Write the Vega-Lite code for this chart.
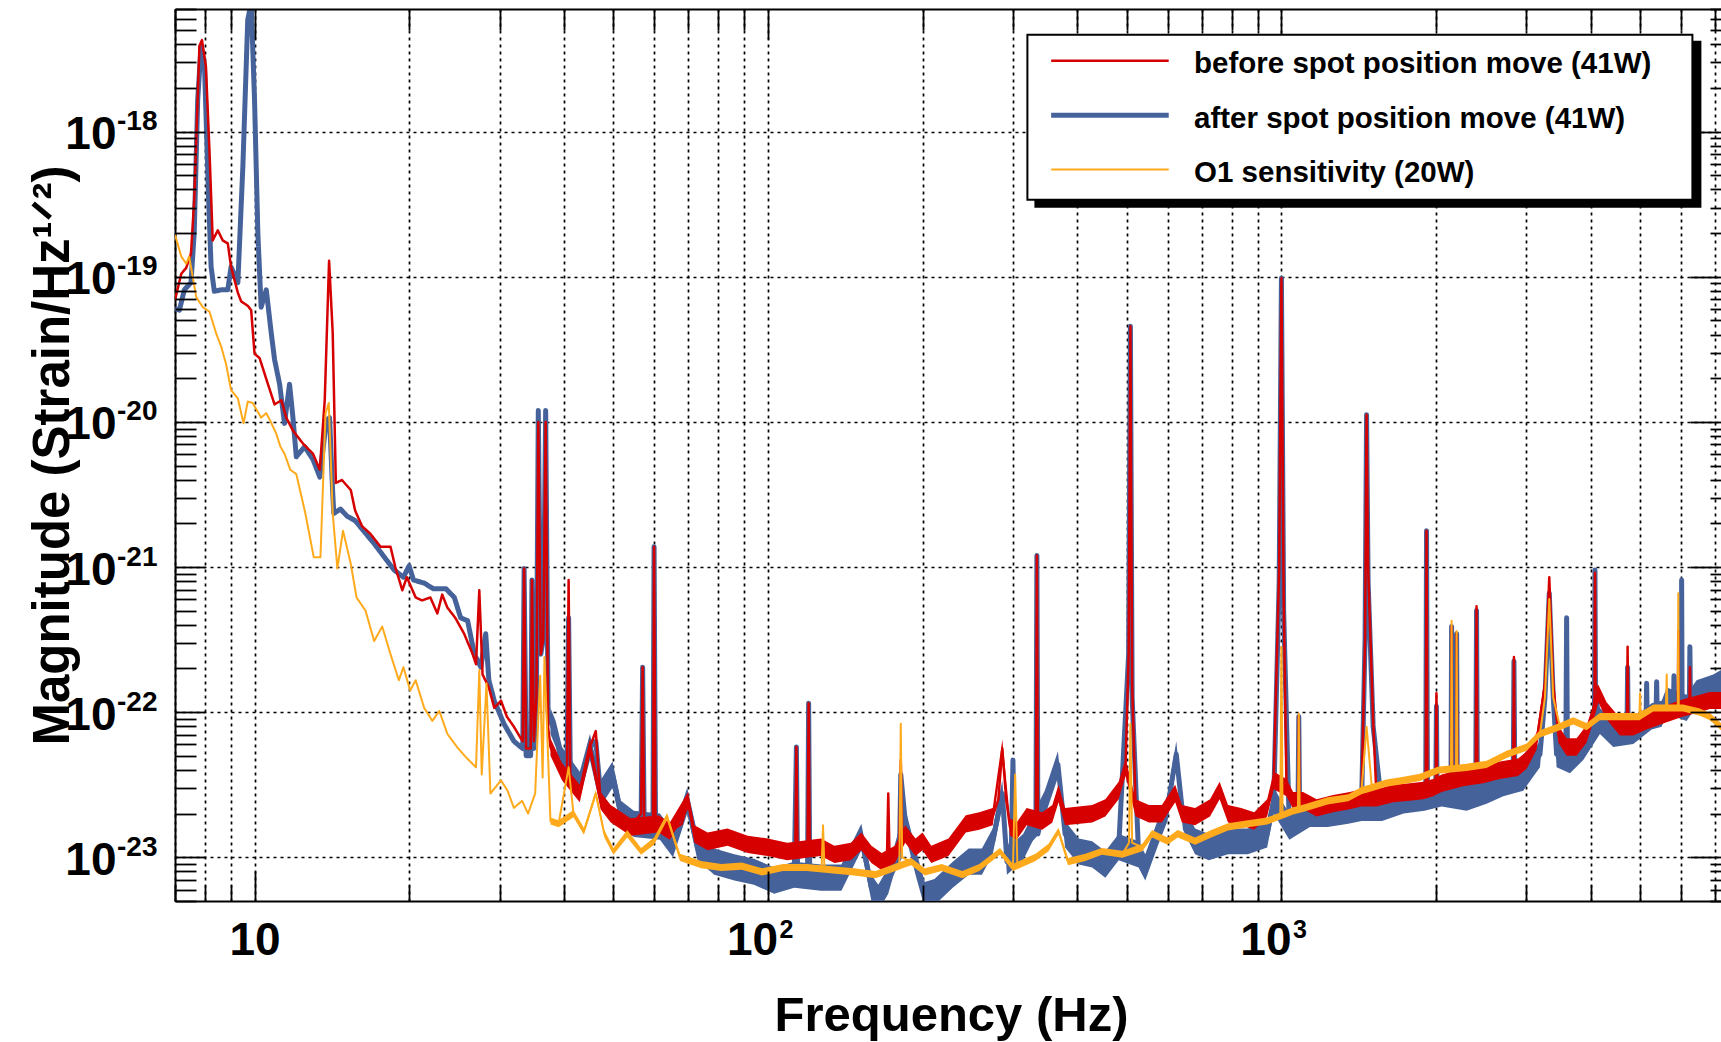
{
  "$schema": "https://vega.github.io/schema/vega-lite/v6.json",
  "autosize": {"type": "none"},
  "padding": {"left": 175, "top": 9, "right": 0, "bottom": 141},
  "width": 1546,
  "height": 892,
  "background": "white",
  "config": {"view": {"stroke": null}, "font": "Liberation Sans"},
  "datasets": {
    "after": [
      {"freq":7.0,"mag":6.03e-20,"series":"after"},{"freq":7.14,"mag":5.89e-20,"series":"after"},{"freq":7.3,"mag":8.13e-20,"series":"after"},{"freq":7.52,"mag":9.12e-20,"series":"after"},{"freq":7.63,"mag":2.0e-19,"series":"after"},{"freq":7.75,"mag":1.66e-18,"series":"after"},{"freq":7.87,"mag":3.89e-18,"series":"after"},{"freq":7.99,"mag":2.82e-18,"series":"after"},{"freq":8.14,"mag":3.39e-19,"series":"after"},{"freq":8.23,"mag":1.17e-19,"series":"after"},{"freq":8.35,"mag":7.94e-20,"series":"after"},{"freq":8.61,"mag":8.13e-20,"series":"after"},{"freq":8.87,"mag":8.13e-20,"series":"after"},{"freq":9.0,"mag":1.17e-19,"series":"after"},{"freq":9.28,"mag":9.12e-20,"series":"after"},{"freq":9.49,"mag":5.75e-19,"series":"after"},{"freq":9.7,"mag":5.89e-18,"series":"after"},{"freq":9.85,"mag":7.76e-18,"series":"after"},{"freq":10.0,"mag":1.66e-18,"series":"after"},{"freq":10.15,"mag":2.0e-19,"series":"after"},{"freq":10.3,"mag":6.17e-20,"series":"after"},{"freq":10.54,"mag":8.13e-20,"series":"after"},{"freq":10.78,"mag":4.07e-20,"series":"after"},{"freq":10.94,"mag":2.69e-20,"series":"after"},{"freq":11.19,"mag":1.82e-20,"series":"after"},{"freq":11.44,"mag":9.77e-21,"series":"after"},{"freq":11.7,"mag":1.82e-20,"series":"after"},{"freq":11.88,"mag":1.07e-20,"series":"after"},{"freq":12.06,"mag":5.75e-21,"series":"after"},{"freq":12.52,"mag":6.76e-21,"series":"after"},{"freq":13.0,"mag":5.5e-21,"series":"after"},{"freq":13.4,"mag":4.17e-21,"series":"after"},{"freq":13.8,"mag":1.02e-20,"series":"after"},{"freq":14.0,"mag":1.07e-20,"series":"after"},{"freq":14.2,"mag":3.24e-21,"series":"after"},{"freq":14.27,"mag":2.34e-21,"series":"after"},{"freq":14.7,"mag":2.51e-21,"series":"after"},{"freq":15.15,"mag":2.24e-21,"series":"after"},{"freq":15.7,"mag":2.09e-21,"series":"after"},{"freq":16.3,"mag":1.78e-21,"series":"after"},{"freq":17.1,"mag":1.45e-21,"series":"after"},{"freq":17.9,"mag":1.17e-21,"series":"after"},{"freq":18.7,"mag":9.55e-22,"series":"after"},{"freq":19.5,"mag":8.51e-22,"series":"after"},{"freq":20.0,"mag":1.02e-21,"series":"after"},{"freq":20.4,"mag":8.13e-22,"series":"after"},{"freq":21.4,"mag":7.76e-22,"series":"after"},{"freq":22.3,"mag":7.08e-22,"series":"after"},{"freq":23.6,"mag":7.08e-22,"series":"after"},{"freq":24.5,"mag":6.17e-22,"series":"after"},{"freq":25.2,"mag":4.47e-22,"series":"after"},{"freq":26.0,"mag":4.27e-22,"series":"after"},{"freq":26.8,"mag":2.51e-22,"series":"after"},{"freq":27.6,"mag":2.04e-22,"series":"after"},{"freq":28.2,"mag":3.47e-22,"series":"after"},{"freq":28.6,"mag":1.66e-22,"series":"after"},{"freq":29.3,"mag":1.2e-22,"series":"after"},{"freq":30.6,"mag":8.32e-23,"series":"after"},{"freq":32.0,"mag":6.31e-23,"series":"after"},{"freq":33.0,"mag":5.75e-23,"series":"after"},{"freq":33.3,"mag":5.62e-23,"series":"after"},{"freq":33.5,"mag":9.77e-22,"series":"after"},{"freq":33.8,"mag":5.01e-23,"series":"after"},{"freq":34.5,"mag":5.01e-23,"series":"after"},{"freq":34.7,"mag":8.13e-22,"series":"after"},{"freq":35.0,"mag":5.62e-23,"series":"after"},{"freq":35.4,"mag":1.26e-22,"series":"after"},{"freq":35.7,"mag":1.2e-20,"series":"after"},{"freq":36.1,"mag":2.51e-22,"series":"after"},{"freq":36.5,"mag":3.16e-22,"series":"after"},{"freq":36.9,"mag":1.2e-20,"series":"after"},{"freq":37.3,"mag":1.0e-22,"series":"after"},{"freq":37.7,"mag":8.71e-23,"series":"after"},{"freq":38.6,"mag":7.08e-23,"series":"after"},{"freq":39.7,"mag":4.68e-23,"series":"after"},{"freq":40.6,"mag":4.47e-23,"series":"after"},{"freq":40.9,"mag":4.47e-22,"series":"after"},{"freq":41.2,"mag":4.17e-23,"series":"after"},{"freq":43.0,"mag":3.16e-23,"series":"after"},{"freq":45.0,"mag":5.75e-23,"series":"after"},{"freq":46.2,"mag":6.31e-23,"series":"after"},{"freq":47.2,"mag":2.75e-23,"series":"after"},{"freq":49.8,"mag":3.72e-23,"series":"after"},{"freq":51.7,"mag":2.0e-23,"series":"after"},{"freq":54.8,"mag":1.7e-23,"series":"after"},{"freq":56.6,"mag":1.7e-23,"series":"after"},{"freq":57.0,"mag":2.04e-22,"series":"after"},{"freq":57.4,"mag":1.58e-23,"series":"after"},{"freq":59.7,"mag":1.58e-23,"series":"after"},{"freq":60.0,"mag":1.38e-21,"series":"after"},{"freq":60.4,"mag":1.58e-23,"series":"after"},{"freq":61.6,"mag":1.62e-23,"series":"after"},{"freq":65.3,"mag":1.23e-23,"series":"after"},{"freq":69.6,"mag":2.45e-23,"series":"after"},{"freq":72.9,"mag":1.17e-23,"series":"after"},{"freq":78.6,"mag":9.33e-24,"series":"after"},{"freq":86.0,"mag":8.51e-24,"series":"after"},{"freq":93.9,"mag":7.94e-24,"series":"after"},{"freq":102.8,"mag":6.92e-24,"series":"after"},{"freq":112.5,"mag":7.59e-24,"series":"after"},{"freq":113.6,"mag":5.75e-23,"series":"after"},{"freq":114.2,"mag":7.59e-24,"series":"after"},{"freq":119.4,"mag":7.59e-24,"series":"after"},{"freq":120,"mag":1.15e-22,"series":"after"},{"freq":120.6,"mag":7.24e-24,"series":"after"},{"freq":126.8,"mag":7.24e-24,"series":"after"},{"freq":139,"mag":7.24e-24,"series":"after"},{"freq":152,"mag":1.38e-23,"series":"after"},{"freq":159,"mag":6.17e-24,"series":"after"},{"freq":164,"mag":5.25e-24,"series":"after"},{"freq":171.5,"mag":6.92e-24,"series":"after"},{"freq":180.3,"mag":1.0e-23,"series":"after"},{"freq":181.4,"mag":3.72e-23,"series":"after"},{"freq":185,"mag":1.78e-23,"series":"after"},{"freq":193.8,"mag":9.33e-24,"series":"after"},{"freq":202,"mag":5.5e-24,"series":"after"},{"freq":211,"mag":5.75e-24,"series":"after"},{"freq":229,"mag":7.59e-24,"series":"after"},{"freq":246,"mag":9.33e-24,"series":"after"},{"freq":261,"mag":9.33e-24,"series":"after"},{"freq":274,"mag":1.29e-23,"series":"after"},{"freq":286,"mag":2.75e-23,"series":"after"},{"freq":292,"mag":9.33e-24,"series":"after"},{"freq":298,"mag":1.26e-23,"series":"after"},{"freq":300,"mag":4.68e-23,"series":"after"},{"freq":302,"mag":1.0e-23,"series":"after"},{"freq":314,"mag":1.17e-23,"series":"after"},{"freq":332.5,"mag":1.45e-23,"series":"after"},{"freq":334,"mag":1.2e-21,"series":"after"},{"freq":335.5,"mag":1.45e-23,"series":"after"},{"freq":346,"mag":2.34e-23,"series":"after"},{"freq":367,"mag":4.37e-23,"series":"after"},{"freq":379,"mag":1.45e-23,"series":"after"},{"freq":403,"mag":1.1e-23,"series":"after"},{"freq":428,"mag":1.05e-23,"series":"after"},{"freq":454,"mag":8.91e-24,"series":"after"},{"freq":482,"mag":1.17e-23,"series":"after"},{"freq":504,"mag":2.51e-22,"series":"after"},{"freq":508,"mag":4.57e-20,"series":"after"},{"freq":512,"mag":1.26e-22,"series":"after"},{"freq":527,"mag":1.05e-23,"series":"after"},{"freq":543,"mag":8.51e-24,"series":"after"},{"freq":576,"mag":1.51e-23,"series":"after"},{"freq":600,"mag":2.19e-23,"series":"after"},{"freq":624,"mag":5.13e-23,"series":"after"},{"freq":643,"mag":1.91e-23,"series":"after"},{"freq":679,"mag":1.29e-23,"series":"after"},{"freq":722,"mag":1.17e-23,"series":"after"},{"freq":787,"mag":1.29e-23,"series":"after"},{"freq":860,"mag":1.29e-23,"series":"after"},{"freq":938,"mag":1.45e-23,"series":"after"},{"freq":966,"mag":2.45e-23,"series":"after"},{"freq":990,"mag":7.94e-22,"series":"after"},{"freq":1000,"mag":9.77e-20,"series":"after"},{"freq":1010,"mag":5.01e-22,"series":"after"},{"freq":1036,"mag":1.62e-23,"series":"after"},{"freq":1077,"mag":2.0e-23,"series":"after"},{"freq":1081,"mag":9.33e-23,"series":"after"},{"freq":1085,"mag":2.0e-23,"series":"after"},{"freq":1136,"mag":2.0e-23,"series":"after"},{"freq":1230,"mag":2.0e-23,"series":"after"},{"freq":1350,"mag":2.09e-23,"series":"after"},{"freq":1432,"mag":2.19e-23,"series":"after"},{"freq":1455,"mag":3.16e-22,"series":"after"},{"freq":1465,"mag":1.12e-20,"series":"after"},{"freq":1475,"mag":7.94e-22,"series":"after"},{"freq":1509,"mag":7.94e-23,"series":"after"},{"freq":1570,"mag":2.19e-23,"series":"after"},{"freq":1730,"mag":2.45e-23,"series":"after"},{"freq":1806,"mag":2.45e-23,"series":"after"},{"freq":1900,"mag":2.57e-23,"series":"after"},{"freq":1910,"mag":2.57e-23,"series":"after"},{"freq":1917,"mag":1.78e-21,"series":"after"},{"freq":1925,"mag":2.75e-23,"series":"after"},{"freq":1975,"mag":2.75e-23,"series":"after"},{"freq":1998,"mag":2.75e-23,"series":"after"},{"freq":2004,"mag":1.1e-22,"series":"after"},{"freq":2010,"mag":2.75e-23,"series":"after"},{"freq":2051,"mag":2.75e-23,"series":"after"},{"freq":2139,"mag":2.75e-23,"series":"after"},{"freq":2145,"mag":3.89e-22,"series":"after"},{"freq":2152,"mag":2.75e-23,"series":"after"},{"freq":2177,"mag":2.75e-23,"series":"after"},{"freq":2188,"mag":2.75e-23,"series":"after"},{"freq":2194,"mag":3.47e-22,"series":"after"},{"freq":2201,"mag":2.75e-23,"series":"after"},{"freq":2294,"mag":2.57e-23,"series":"after"},{"freq":2390,"mag":2.82e-23,"series":"after"},{"freq":2399,"mag":5.01e-22,"series":"after"},{"freq":2408,"mag":2.82e-23,"series":"after"},{"freq":2509,"mag":2.88e-23,"series":"after"},{"freq":2704,"mag":3.24e-23,"series":"after"},{"freq":2828,"mag":3.39e-23,"series":"after"},{"freq":2837,"mag":2.24e-22,"series":"after"},{"freq":2848,"mag":3.39e-23,"series":"after"},{"freq":2958,"mag":3.55e-23,"series":"after"},{"freq":3188,"mag":5.13e-23,"series":"after"},{"freq":3260,"mag":1.26e-22,"series":"after"},{"freq":3324,"mag":6.61e-22,"series":"after"},{"freq":3384,"mag":1.26e-22,"series":"after"},{"freq":3435,"mag":5.13e-23,"series":"after"},{"freq":3580,"mag":5.01e-23,"series":"after"},{"freq":3593,"mag":4.47e-22,"series":"after"},{"freq":3606,"mag":5.01e-23,"series":"after"},{"freq":3647,"mag":4.68e-23,"series":"after"},{"freq":3871,"mag":5.75e-23,"series":"after"},{"freq":4070,"mag":7.94e-23,"series":"after"},{"freq":4080,"mag":9.55e-22,"series":"after"},{"freq":4090,"mag":1.26e-22,"series":"after"},{"freq":4172,"mag":8.71e-23,"series":"after"},{"freq":4428,"mag":7.08e-23,"series":"after"},{"freq":4710,"mag":7.08e-23,"series":"after"},{"freq":4723,"mag":2.04e-22,"series":"after"},{"freq":4736,"mag":7.41e-23,"series":"after"},{"freq":4844,"mag":7.41e-23,"series":"after"},{"freq":5130,"mag":8.71e-23,"series":"after"},{"freq":5144,"mag":1.58e-22,"series":"after"},{"freq":5158,"mag":8.71e-23,"series":"after"},{"freq":5261,"mag":9.33e-23,"series":"after"},{"freq":5365,"mag":9.33e-23,"series":"after"},{"freq":5380,"mag":1.62e-22,"series":"after"},{"freq":5395,"mag":9.33e-23,"series":"after"},{"freq":5502,"mag":9.77e-23,"series":"after"},{"freq":5628,"mag":1.2e-22,"series":"after"},{"freq":5800,"mag":1.07e-22,"series":"after"},{"freq":5815,"mag":1.78e-22,"series":"after"},{"freq":5830,"mag":1.07e-22,"series":"after"},{"freq":6005,"mag":1.07e-22,"series":"after"},{"freq":6018,"mag":8.13e-22,"series":"after"},{"freq":6031,"mag":1.07e-22,"series":"after"},{"freq":6153,"mag":1.07e-22,"series":"after"},{"freq":6230,"mag":1.12e-22,"series":"after"},{"freq":6245,"mag":2.82e-22,"series":"after"},{"freq":6260,"mag":1.26e-22,"series":"after"},{"freq":6435,"mag":1.35e-22,"series":"after"},{"freq":6934,"mag":1.48e-22,"series":"after"},{"freq":7180,"mag":1.58e-22,"series":"after"}
    ],
    "after_band": [
      {"freq":37.7,"lo":7.08e-23,"hi":1.07e-22},{"freq":38.6,"lo":5.75e-23,"hi":8.71e-23},{"freq":39.7,"lo":3.8e-23,"hi":5.75e-23},{"freq":43.0,"lo":2.57e-23,"hi":3.89e-23},{"freq":45.0,"lo":4.68e-23,"hi":7.08e-23},{"freq":47.2,"lo":2.24e-23,"hi":3.39e-23},{"freq":49.8,"lo":3.02e-23,"hi":4.57e-23},{"freq":51.7,"lo":1.62e-23,"hi":2.45e-23},{"freq":54.8,"lo":1.38e-23,"hi":2.09e-23},{"freq":61.6,"lo":1.32e-23,"hi":2.0e-23},{"freq":65.3,"lo":1.0e-23,"hi":1.51e-23},{"freq":69.6,"lo":2.0e-23,"hi":3.02e-23},{"freq":72.9,"lo":9.55e-24,"hi":1.45e-23},{"freq":78.6,"lo":7.59e-24,"hi":1.15e-23},{"freq":86.0,"lo":6.92e-24,"hi":1.05e-23},{"freq":93.9,"lo":6.46e-24,"hi":9.77e-24},{"freq":102.8,"lo":5.62e-24,"hi":8.51e-24},{"freq":112.5,"lo":6.17e-24,"hi":9.33e-24},{"freq":126.8,"lo":5.89e-24,"hi":8.91e-24},{"freq":139,"lo":5.89e-24,"hi":8.91e-24},{"freq":152,"lo":1.12e-23,"hi":1.7e-23},{"freq":159,"lo":5.01e-24,"hi":7.59e-24},{"freq":164,"lo":4.27e-24,"hi":6.46e-24},{"freq":171.5,"lo":5.62e-24,"hi":8.51e-24},{"freq":185,"lo":1.45e-23,"hi":2.19e-23},{"freq":193.8,"lo":7.59e-24,"hi":1.15e-23},{"freq":202,"lo":4.47e-24,"hi":6.76e-24},{"freq":211,"lo":4.68e-24,"hi":7.08e-24},{"freq":229,"lo":6.17e-24,"hi":9.33e-24},{"freq":246,"lo":7.59e-24,"hi":1.15e-23},{"freq":261,"lo":7.59e-24,"hi":1.15e-23},{"freq":274,"lo":1.05e-23,"hi":1.58e-23},{"freq":286,"lo":2.24e-23,"hi":3.39e-23},{"freq":292,"lo":7.59e-24,"hi":1.15e-23},{"freq":314,"lo":9.55e-24,"hi":1.45e-23},{"freq":346,"lo":1.91e-23,"hi":2.88e-23},{"freq":367,"lo":3.55e-23,"hi":5.37e-23},{"freq":379,"lo":1.17e-23,"hi":1.78e-23},{"freq":403,"lo":8.91e-24,"hi":1.35e-23},{"freq":428,"lo":8.51e-24,"hi":1.29e-23},{"freq":454,"lo":7.24e-24,"hi":1.1e-23},{"freq":482,"lo":9.55e-24,"hi":1.45e-23},{"freq":527,"lo":8.51e-24,"hi":1.29e-23},{"freq":543,"lo":6.92e-24,"hi":1.05e-23},{"freq":576,"lo":1.23e-23,"hi":1.86e-23},{"freq":600,"lo":1.78e-23,"hi":2.69e-23},{"freq":624,"lo":4.17e-23,"hi":6.31e-23},{"freq":643,"lo":1.55e-23,"hi":2.34e-23},{"freq":679,"lo":1.05e-23,"hi":1.58e-23},{"freq":722,"lo":9.55e-24,"hi":1.45e-23},{"freq":787,"lo":1.05e-23,"hi":1.58e-23},{"freq":860,"lo":1.05e-23,"hi":1.58e-23},{"freq":938,"lo":1.17e-23,"hi":1.78e-23},{"freq":966,"lo":2.0e-23,"hi":3.02e-23},{"freq":1036,"lo":1.32e-23,"hi":2.0e-23},{"freq":1136,"lo":1.62e-23,"hi":2.45e-23},{"freq":1230,"lo":1.62e-23,"hi":2.45e-23},{"freq":1350,"lo":1.7e-23,"hi":2.57e-23},{"freq":1432,"lo":1.78e-23,"hi":2.69e-23},{"freq":1570,"lo":1.78e-23,"hi":2.69e-23},{"freq":1730,"lo":2.0e-23,"hi":3.02e-23},{"freq":1900,"lo":2.09e-23,"hi":3.16e-23},{"freq":2051,"lo":2.24e-23,"hi":3.39e-23},{"freq":2294,"lo":2.09e-23,"hi":3.16e-23},{"freq":2509,"lo":2.34e-23,"hi":3.55e-23},{"freq":2704,"lo":2.63e-23,"hi":3.98e-23},{"freq":2958,"lo":2.88e-23,"hi":4.37e-23},{"freq":3188,"lo":4.17e-23,"hi":6.31e-23},{"freq":3260,"lo":1.02e-22,"hi":1.55e-22},{"freq":3324,"lo":3.24e-22,"hi":4.9e-22},{"freq":3384,"lo":1.02e-22,"hi":1.55e-22},{"freq":3435,"lo":4.17e-23,"hi":6.31e-23},{"freq":3647,"lo":3.8e-23,"hi":5.75e-23},{"freq":3871,"lo":4.68e-23,"hi":7.08e-23},{"freq":4172,"lo":7.08e-23,"hi":1.07e-22},{"freq":4428,"lo":5.75e-23,"hi":8.71e-23},{"freq":4844,"lo":6.03e-23,"hi":9.12e-23},{"freq":5261,"lo":7.59e-23,"hi":1.15e-22},{"freq":5502,"lo":7.94e-23,"hi":1.2e-22},{"freq":5628,"lo":9.77e-23,"hi":1.48e-22},{"freq":6153,"lo":8.71e-23,"hi":1.32e-22},{"freq":6435,"lo":1.1e-22,"hi":1.66e-22},{"freq":6934,"lo":1.2e-22,"hi":1.82e-22},{"freq":7180,"lo":1.29e-22,"hi":1.95e-22}
    ],
    "before": [
      {"freq":7.0,"mag":6.92e-20,"series":"before"},{"freq":7.2,"mag":1.05e-19,"series":"before"},{"freq":7.36,"mag":1.15e-19,"series":"before"},{"freq":7.52,"mag":1.45e-19,"series":"before"},{"freq":7.63,"mag":3.39e-19,"series":"before"},{"freq":7.81,"mag":3.89e-18,"series":"before"},{"freq":7.9,"mag":4.27e-18,"series":"before"},{"freq":8.04,"mag":2.82e-18,"series":"before"},{"freq":8.17,"mag":7.41e-19,"series":"before"},{"freq":8.29,"mag":1.78e-19,"series":"before"},{"freq":8.48,"mag":2.09e-19,"series":"before"},{"freq":8.67,"mag":1.78e-19,"series":"before"},{"freq":8.87,"mag":1.7e-19,"series":"before"},{"freq":9.0,"mag":1.17e-19,"series":"before"},{"freq":9.28,"mag":7.76e-20,"series":"before"},{"freq":9.42,"mag":6.76e-20,"series":"before"},{"freq":9.7,"mag":6.31e-20,"series":"before"},{"freq":9.85,"mag":5.89e-20,"series":"before"},{"freq":10.0,"mag":2.95e-20,"series":"before"},{"freq":10.23,"mag":2.75e-20,"series":"before"},{"freq":10.62,"mag":1.82e-20,"series":"before"},{"freq":10.94,"mag":1.32e-20,"series":"before"},{"freq":11.28,"mag":1.41e-20,"series":"before"},{"freq":11.53,"mag":1.07e-20,"series":"before"},{"freq":11.88,"mag":8.71e-21,"series":"before"},{"freq":12.43,"mag":7.08e-21,"series":"before"},{"freq":13.0,"mag":6.03e-21,"series":"before"},{"freq":13.4,"mag":4.68e-21,"series":"before"},{"freq":13.7,"mag":1.41e-20,"series":"before"},{"freq":13.97,"mag":1.29e-19,"series":"before"},{"freq":14.2,"mag":4.07e-20,"series":"before"},{"freq":14.4,"mag":3.8e-21,"series":"before"},{"freq":14.8,"mag":3.98e-21,"series":"before"},{"freq":15.4,"mag":3.39e-21,"series":"before"},{"freq":15.7,"mag":2.45e-21,"series":"before"},{"freq":16.2,"mag":1.91e-21,"series":"before"},{"freq":16.8,"mag":1.7e-21,"series":"before"},{"freq":17.6,"mag":1.38e-21,"series":"before"},{"freq":18.4,"mag":1.38e-21,"series":"before"},{"freq":18.8,"mag":1.0e-21,"series":"before"},{"freq":19.4,"mag":6.92e-22,"series":"before"},{"freq":19.8,"mag":8.51e-22,"series":"before"},{"freq":20.6,"mag":6.17e-22,"series":"before"},{"freq":21.2,"mag":5.89e-22,"series":"before"},{"freq":22.0,"mag":6.17e-22,"series":"before"},{"freq":22.7,"mag":4.79e-22,"series":"before"},{"freq":23.2,"mag":6.46e-22,"series":"before"},{"freq":23.75,"mag":5.25e-22,"series":"before"},{"freq":24.6,"mag":4.47e-22,"series":"before"},{"freq":25.6,"mag":3.47e-22,"series":"before"},{"freq":26.6,"mag":2.51e-22,"series":"before"},{"freq":27.0,"mag":2.14e-22,"series":"before"},{"freq":27.4,"mag":6.92e-22,"series":"before"},{"freq":27.8,"mag":1.82e-22,"series":"before"},{"freq":28.6,"mag":1.48e-22,"series":"before"},{"freq":29.3,"mag":1.07e-22,"series":"before"},{"freq":30.2,"mag":1.2e-22,"series":"before"},{"freq":31.0,"mag":9.33e-23,"series":"before"},{"freq":32.0,"mag":7.94e-23,"series":"before"},{"freq":33.0,"mag":6.61e-23,"series":"before"},{"freq":33.3,"mag":6.31e-23,"series":"before"},{"freq":33.5,"mag":9.77e-22,"series":"before"},{"freq":33.8,"mag":5.62e-23,"series":"before"},{"freq":34.5,"mag":5.62e-23,"series":"before"},{"freq":34.7,"mag":8.13e-22,"series":"before"},{"freq":35.0,"mag":6.31e-23,"series":"before"},{"freq":35.4,"mag":1.26e-22,"series":"before"},{"freq":35.7,"mag":1.0e-20,"series":"before"},{"freq":36.1,"mag":2.51e-22,"series":"before"},{"freq":36.5,"mag":3.16e-22,"series":"before"},{"freq":36.9,"mag":1.0e-20,"series":"before"},{"freq":37.3,"mag":7.94e-23,"series":"before"},{"freq":37.7,"mag":5.75e-23,"series":"before"},{"freq":38.6,"mag":4.68e-23,"series":"before"},{"freq":39.7,"mag":3.89e-23,"series":"before"},{"freq":40.6,"mag":3.98e-23,"series":"before"},{"freq":40.9,"mag":8.13e-22,"series":"before"},{"freq":41.2,"mag":3.72e-23,"series":"before"},{"freq":43.0,"mag":2.75e-23,"series":"before"},{"freq":45.0,"mag":5.75e-23,"series":"before"},{"freq":46.2,"mag":7.41e-23,"series":"before"},{"freq":47.2,"mag":2.45e-23,"series":"before"},{"freq":49.4,"mag":2.0e-23,"series":"before"},{"freq":51.7,"mag":2.0e-23,"series":"before"},{"freq":54.0,"mag":1.62e-23,"series":"before"},{"freq":56.6,"mag":2.0e-23,"series":"before"},{"freq":57.0,"mag":2.04e-22,"series":"before"},{"freq":57.4,"mag":1.78e-23,"series":"before"},{"freq":59.7,"mag":1.78e-23,"series":"before"},{"freq":60.0,"mag":1.38e-21,"series":"before"},{"freq":60.4,"mag":1.7e-23,"series":"before"},{"freq":61.2,"mag":1.7e-23,"series":"before"},{"freq":64.4,"mag":1.51e-23,"series":"before"},{"freq":67.9,"mag":1.7e-23,"series":"before"},{"freq":69.9,"mag":2.45e-23,"series":"before"},{"freq":71.9,"mag":1.45e-23,"series":"before"},{"freq":76.3,"mag":1.29e-23,"series":"before"},{"freq":83.4,"mag":1.38e-23,"series":"before"},{"freq":91.3,"mag":1.23e-23,"series":"before"},{"freq":99.9,"mag":1.17e-23,"series":"before"},{"freq":109,"mag":1.1e-23,"series":"before"},{"freq":113.0,"mag":1.1e-23,"series":"before"},{"freq":113.6,"mag":5.75e-23,"series":"before"},{"freq":114.2,"mag":1.1e-23,"series":"before"},{"freq":119.4,"mag":1.1e-23,"series":"before"},{"freq":120,"mag":1.15e-22,"series":"before"},{"freq":120.6,"mag":1.17e-23,"series":"before"},{"freq":126.8,"mag":1.17e-23,"series":"before"},{"freq":134.7,"mag":1.05e-23,"series":"before"},{"freq":145,"mag":1.1e-23,"series":"before"},{"freq":152,"mag":1.29e-23,"series":"before"},{"freq":159,"mag":1.05e-23,"series":"before"},{"freq":166.5,"mag":9.33e-24,"series":"before"},{"freq":170.5,"mag":1.0e-23,"series":"before"},{"freq":171.5,"mag":2.75e-23,"series":"before"},{"freq":172.5,"mag":1.0e-23,"series":"before"},{"freq":176.7,"mag":1.05e-23,"series":"before"},{"freq":180.3,"mag":1.26e-23,"series":"before"},{"freq":181.4,"mag":4.68e-23,"series":"before"},{"freq":182.5,"mag":1.58e-23,"series":"before"},{"freq":185,"mag":1.45e-23,"series":"before"},{"freq":193.8,"mag":1.17e-23,"series":"before"},{"freq":200,"mag":1.29e-23,"series":"before"},{"freq":208,"mag":1.05e-23,"series":"before"},{"freq":224.7,"mag":1.17e-23,"series":"before"},{"freq":242.8,"mag":1.7e-23,"series":"before"},{"freq":258,"mag":1.78e-23,"series":"before"},{"freq":274,"mag":1.91e-23,"series":"before"},{"freq":281,"mag":2.51e-23,"series":"before"},{"freq":286,"mag":5.62e-23,"series":"before"},{"freq":291,"mag":2.51e-23,"series":"before"},{"freq":296,"mag":1.62e-23,"series":"before"},{"freq":305,"mag":1.51e-23,"series":"before"},{"freq":319,"mag":1.91e-23,"series":"before"},{"freq":332.5,"mag":1.91e-23,"series":"before"},{"freq":334,"mag":1.2e-21,"series":"before"},{"freq":335.5,"mag":1.91e-23,"series":"before"},{"freq":342,"mag":1.78e-23,"series":"before"},{"freq":358,"mag":2.0e-23,"series":"before"},{"freq":368,"mag":2.75e-23,"series":"before"},{"freq":379,"mag":1.91e-23,"series":"before"},{"freq":403,"mag":2.0e-23,"series":"before"},{"freq":428,"mag":2.0e-23,"series":"before"},{"freq":454,"mag":2.19e-23,"series":"before"},{"freq":482,"mag":2.88e-23,"series":"before"},{"freq":497,"mag":4.17e-23,"series":"before"},{"freq":504,"mag":2.51e-22,"series":"before"},{"freq":508,"mag":4.57e-20,"series":"before"},{"freq":512,"mag":1.58e-22,"series":"before"},{"freq":520,"mag":2.19e-23,"series":"before"},{"freq":552,"mag":2.0e-23,"series":"before"},{"freq":585,"mag":2.0e-23,"series":"before"},{"freq":621,"mag":2.75e-23,"series":"before"},{"freq":640,"mag":2.0e-23,"series":"before"},{"freq":679,"mag":1.91e-23,"series":"before"},{"freq":699,"mag":2.0e-23,"series":"before"},{"freq":726,"mag":2.19e-23,"series":"before"},{"freq":758,"mag":2.88e-23,"series":"before"},{"freq":787,"mag":2.0e-23,"series":"before"},{"freq":835,"mag":1.91e-23,"series":"before"},{"freq":885,"mag":1.78e-23,"series":"before"},{"freq":938,"mag":2.19e-23,"series":"before"},{"freq":966,"mag":3.39e-23,"series":"before"},{"freq":990,"mag":1.0e-21,"series":"before"},{"freq":1000,"mag":9.77e-20,"series":"before"},{"freq":1010,"mag":6.31e-22,"series":"before"},{"freq":1023,"mag":3.02e-23,"series":"before"},{"freq":1054,"mag":2.45e-23,"series":"before"},{"freq":1077,"mag":2.51e-23,"series":"before"},{"freq":1081,"mag":9.33e-23,"series":"before"},{"freq":1085,"mag":2.51e-23,"series":"before"},{"freq":1102,"mag":2.45e-23,"series":"before"},{"freq":1171,"mag":2.19e-23,"series":"before"},{"freq":1261,"mag":2.34e-23,"series":"before"},{"freq":1359,"mag":2.45e-23,"series":"before"},{"freq":1432,"mag":2.57e-23,"series":"before"},{"freq":1455,"mag":3.16e-22,"series":"before"},{"freq":1465,"mag":1.12e-20,"series":"before"},{"freq":1475,"mag":1.0e-21,"series":"before"},{"freq":1509,"mag":8.71e-23,"series":"before"},{"freq":1532,"mag":2.57e-23,"series":"before"},{"freq":1651,"mag":2.75e-23,"series":"before"},{"freq":1779,"mag":2.82e-23,"series":"before"},{"freq":1888,"mag":2.88e-23,"series":"before"},{"freq":1910,"mag":2.88e-23,"series":"before"},{"freq":1917,"mag":1.78e-21,"series":"before"},{"freq":1925,"mag":3.16e-23,"series":"before"},{"freq":1975,"mag":3.02e-23,"series":"before"},{"freq":1998,"mag":3.16e-23,"series":"before"},{"freq":2004,"mag":1.35e-22,"series":"before"},{"freq":2010,"mag":3.16e-23,"series":"before"},{"freq":2051,"mag":3.24e-23,"series":"before"},{"freq":2139,"mag":3.39e-23,"series":"before"},{"freq":2145,"mag":3.89e-22,"series":"before"},{"freq":2152,"mag":3.39e-23,"series":"before"},{"freq":2177,"mag":3.55e-23,"series":"before"},{"freq":2188,"mag":3.55e-23,"series":"before"},{"freq":2194,"mag":3.47e-22,"series":"before"},{"freq":2201,"mag":3.55e-23,"series":"before"},{"freq":2259,"mag":3.55e-23,"series":"before"},{"freq":2390,"mag":3.72e-23,"series":"before"},{"freq":2399,"mag":5.37e-22,"series":"before"},{"freq":2408,"mag":3.72e-23,"series":"before"},{"freq":2472,"mag":3.72e-23,"series":"before"},{"freq":2664,"mag":3.98e-23,"series":"before"},{"freq":2828,"mag":4.17e-23,"series":"before"},{"freq":2837,"mag":2.4e-22,"series":"before"},{"freq":2848,"mag":4.17e-23,"series":"before"},{"freq":2891,"mag":4.17e-23,"series":"before"},{"freq":3003,"mag":4.68e-23,"series":"before"},{"freq":3141,"mag":6.31e-23,"series":"before"},{"freq":3260,"mag":1.55e-22,"series":"before"},{"freq":3324,"mag":8.51e-22,"series":"before"},{"freq":3384,"mag":1.55e-22,"series":"before"},{"freq":3460,"mag":7.08e-23,"series":"before"},{"freq":3593,"mag":5.75e-23,"series":"before"},{"freq":3758,"mag":5.75e-23,"series":"before"},{"freq":3930,"mag":7.08e-23,"series":"before"},{"freq":4049,"mag":9.77e-23,"series":"before"},{"freq":4072,"mag":1.26e-22,"series":"before"},{"freq":4080,"mag":9.12e-22,"series":"before"},{"freq":4090,"mag":1.58e-22,"series":"before"},{"freq":4140,"mag":1.35e-22,"series":"before"},{"freq":4299,"mag":1.02e-22,"series":"before"},{"freq":4563,"mag":7.94e-23,"series":"before"},{"freq":4710,"mag":7.94e-23,"series":"before"},{"freq":4723,"mag":2.82e-22,"series":"before"},{"freq":4736,"mag":7.94e-23,"series":"before"},{"freq":4844,"mag":7.94e-23,"series":"before"},{"freq":5144,"mag":8.71e-23,"series":"before"},{"freq":5628,"mag":9.77e-23,"series":"before"},{"freq":5915,"mag":1.0e-22,"series":"before"},{"freq":5928,"mag":3.63e-22,"series":"before"},{"freq":5941,"mag":1.0e-22,"series":"before"},{"freq":6061,"mag":1.07e-22,"series":"before"},{"freq":6230,"mag":1.07e-22,"series":"before"},{"freq":6245,"mag":2.04e-22,"series":"before"},{"freq":6260,"mag":1.12e-22,"series":"before"},{"freq":6531,"mag":1.15e-22,"series":"before"},{"freq":6830,"mag":1.2e-22,"series":"before"},{"freq":7180,"mag":1.2e-22,"series":"before"}
    ],
    "before_band": [
      {"freq":37.7,"lo":5.01e-23,"hi":6.61e-23},{"freq":39.7,"lo":3.39e-23,"hi":4.47e-23},{"freq":43.0,"lo":2.4e-23,"hi":3.16e-23},{"freq":45.0,"lo":5.01e-23,"hi":6.61e-23},{"freq":47.2,"lo":2.14e-23,"hi":2.82e-23},{"freq":49.4,"lo":1.74e-23,"hi":2.29e-23},{"freq":54.0,"lo":1.41e-23,"hi":1.86e-23},{"freq":61.2,"lo":1.48e-23,"hi":1.95e-23},{"freq":64.4,"lo":1.32e-23,"hi":1.74e-23},{"freq":69.9,"lo":2.14e-23,"hi":2.82e-23},{"freq":71.9,"lo":1.26e-23,"hi":1.66e-23},{"freq":76.3,"lo":1.12e-23,"hi":1.48e-23},{"freq":83.4,"lo":1.2e-23,"hi":1.58e-23},{"freq":91.3,"lo":1.07e-23,"hi":1.41e-23},{"freq":99.9,"lo":1.02e-23,"hi":1.35e-23},{"freq":109,"lo":9.55e-24,"hi":1.26e-23},{"freq":126.8,"lo":1.02e-23,"hi":1.35e-23},{"freq":134.7,"lo":9.12e-24,"hi":1.2e-23},{"freq":145,"lo":9.55e-24,"hi":1.26e-23},{"freq":152,"lo":1.12e-23,"hi":1.48e-23},{"freq":159,"lo":9.12e-24,"hi":1.2e-23},{"freq":166.5,"lo":8.13e-24,"hi":1.07e-23},{"freq":176.7,"lo":9.12e-24,"hi":1.2e-23},{"freq":185,"lo":1.26e-23,"hi":1.66e-23},{"freq":193.8,"lo":1.02e-23,"hi":1.35e-23},{"freq":200,"lo":1.12e-23,"hi":1.48e-23},{"freq":208,"lo":9.12e-24,"hi":1.2e-23},{"freq":224.7,"lo":1.02e-23,"hi":1.35e-23},{"freq":242.8,"lo":1.48e-23,"hi":1.95e-23},{"freq":258,"lo":1.55e-23,"hi":2.04e-23},{"freq":274,"lo":1.66e-23,"hi":2.19e-23},{"freq":286,"lo":4.9e-23,"hi":6.46e-23},{"freq":296,"lo":1.41e-23,"hi":1.86e-23},{"freq":305,"lo":1.32e-23,"hi":1.74e-23},{"freq":319,"lo":1.66e-23,"hi":2.19e-23},{"freq":342,"lo":1.55e-23,"hi":2.04e-23},{"freq":358,"lo":1.74e-23,"hi":2.29e-23},{"freq":368,"lo":2.4e-23,"hi":3.16e-23},{"freq":379,"lo":1.66e-23,"hi":2.19e-23},{"freq":428,"lo":1.74e-23,"hi":2.29e-23},{"freq":454,"lo":1.91e-23,"hi":2.51e-23},{"freq":482,"lo":2.51e-23,"hi":3.31e-23},{"freq":497,"lo":3.63e-23,"hi":4.79e-23},{"freq":520,"lo":1.91e-23,"hi":2.51e-23},{"freq":552,"lo":1.74e-23,"hi":2.29e-23},{"freq":585,"lo":1.74e-23,"hi":2.29e-23},{"freq":621,"lo":2.4e-23,"hi":3.16e-23},{"freq":640,"lo":1.74e-23,"hi":2.29e-23},{"freq":679,"lo":1.66e-23,"hi":2.19e-23},{"freq":726,"lo":1.91e-23,"hi":2.51e-23},{"freq":758,"lo":2.51e-23,"hi":3.31e-23},{"freq":787,"lo":1.74e-23,"hi":2.29e-23},{"freq":835,"lo":1.66e-23,"hi":2.19e-23},{"freq":885,"lo":1.55e-23,"hi":2.04e-23},{"freq":938,"lo":1.91e-23,"hi":2.51e-23},{"freq":966,"lo":2.95e-23,"hi":3.89e-23},{"freq":1023,"lo":2.63e-23,"hi":3.47e-23},{"freq":1054,"lo":2.14e-23,"hi":2.82e-23},{"freq":1102,"lo":2.14e-23,"hi":2.82e-23},{"freq":1171,"lo":1.91e-23,"hi":2.51e-23},{"freq":1261,"lo":2.04e-23,"hi":2.69e-23},{"freq":1359,"lo":2.14e-23,"hi":2.82e-23},{"freq":1432,"lo":2.24e-23,"hi":2.95e-23},{"freq":1532,"lo":2.24e-23,"hi":2.95e-23},{"freq":1651,"lo":2.4e-23,"hi":3.16e-23},{"freq":1779,"lo":2.45e-23,"hi":3.24e-23},{"freq":1888,"lo":2.51e-23,"hi":3.31e-23},{"freq":1975,"lo":2.63e-23,"hi":3.47e-23},{"freq":2051,"lo":2.82e-23,"hi":3.72e-23},{"freq":2259,"lo":3.09e-23,"hi":4.07e-23},{"freq":2472,"lo":3.24e-23,"hi":4.27e-23},{"freq":2664,"lo":3.47e-23,"hi":4.57e-23},{"freq":2891,"lo":3.63e-23,"hi":4.79e-23},{"freq":3003,"lo":4.07e-23,"hi":5.37e-23},{"freq":3141,"lo":5.5e-23,"hi":7.24e-23},{"freq":3260,"lo":1.35e-22,"hi":1.78e-22},{"freq":3324,"lo":4.37e-22,"hi":5.75e-22},{"freq":3384,"lo":1.35e-22,"hi":1.78e-22},{"freq":3460,"lo":6.17e-23,"hi":8.13e-23},{"freq":3593,"lo":5.01e-23,"hi":6.61e-23},{"freq":3758,"lo":5.01e-23,"hi":6.61e-23},{"freq":3930,"lo":6.17e-23,"hi":8.13e-23},{"freq":4049,"lo":8.51e-23,"hi":1.12e-22},{"freq":4140,"lo":1.17e-22,"hi":1.55e-22},{"freq":4299,"lo":8.91e-23,"hi":1.17e-22},{"freq":4563,"lo":6.92e-23,"hi":9.12e-23},{"freq":4844,"lo":6.92e-23,"hi":9.12e-23},{"freq":5144,"lo":7.59e-23,"hi":1.0e-22},{"freq":5628,"lo":8.51e-23,"hi":1.12e-22},{"freq":6061,"lo":9.33e-23,"hi":1.23e-22},{"freq":6531,"lo":1.0e-22,"hi":1.32e-22},{"freq":6830,"lo":1.05e-22,"hi":1.38e-22},{"freq":7180,"lo":1.05e-22,"hi":1.38e-22}
    ],
    "o1": [
      {"freq":7.0,"mag":1.95e-19,"series":"O1"},{"freq":7.2,"mag":1.38e-19,"series":"O1"},{"freq":7.36,"mag":1.23e-19,"series":"O1"},{"freq":7.46,"mag":1.38e-19,"series":"O1"},{"freq":7.7,"mag":7.24e-20,"series":"O1"},{"freq":7.93,"mag":6.17e-20,"series":"O1"},{"freq":8.17,"mag":5.75e-20,"series":"O1"},{"freq":8.42,"mag":4.07e-20,"series":"O1"},{"freq":8.61,"mag":3.31e-20,"series":"O1"},{"freq":8.8,"mag":2.51e-20,"series":"O1"},{"freq":9.0,"mag":1.66e-20,"series":"O1"},{"freq":9.28,"mag":1.45e-20,"series":"O1"},{"freq":9.52,"mag":9.77e-21,"series":"O1"},{"freq":9.7,"mag":1.38e-20,"series":"O1"},{"freq":9.92,"mag":1.35e-20,"series":"O1"},{"freq":10.3,"mag":1.07e-20,"series":"O1"},{"freq":10.54,"mag":1.15e-20,"series":"O1"},{"freq":10.73,"mag":1.02e-20,"series":"O1"},{"freq":11.02,"mag":8.32e-21,"series":"O1"},{"freq":11.23,"mag":6.76e-21,"series":"O1"},{"freq":11.44,"mag":6.03e-21,"series":"O1"},{"freq":11.74,"mag":4.68e-21,"series":"O1"},{"freq":12.06,"mag":4.37e-21,"series":"O1"},{"freq":12.56,"mag":2.34e-21,"series":"O1"},{"freq":13.04,"mag":1.17e-21,"series":"O1"},{"freq":13.44,"mag":1.17e-21,"series":"O1"},{"freq":13.75,"mag":1.15e-20,"series":"O1"},{"freq":13.95,"mag":1.35e-20,"series":"O1"},{"freq":14.2,"mag":2.34e-21,"series":"O1"},{"freq":14.5,"mag":9.77e-22,"series":"O1"},{"freq":14.87,"mag":1.78e-21,"series":"O1"},{"freq":15.4,"mag":1.05e-21,"series":"O1"},{"freq":15.8,"mag":6.17e-22,"series":"O1"},{"freq":16.45,"mag":5.01e-22,"series":"O1"},{"freq":17.1,"mag":3.09e-22,"series":"O1"},{"freq":17.73,"mag":3.89e-22,"series":"O1"},{"freq":18.4,"mag":2.51e-22,"series":"O1"},{"freq":19.1,"mag":1.66e-22,"series":"O1"},{"freq":19.5,"mag":2.04e-22,"series":"O1"},{"freq":20.1,"mag":1.41e-22,"series":"O1"},{"freq":20.6,"mag":1.66e-22,"series":"O1"},{"freq":21.4,"mag":1.07e-22,"series":"O1"},{"freq":22.2,"mag":8.71e-23,"series":"O1"},{"freq":22.9,"mag":1.02e-22,"series":"O1"},{"freq":23.75,"mag":7.08e-23,"series":"O1"},{"freq":24.8,"mag":5.75e-23,"series":"O1"},{"freq":25.8,"mag":4.9e-23,"series":"O1"},{"freq":27.0,"mag":4.17e-23,"series":"O1"},{"freq":27.4,"mag":1.95e-22,"series":"O1"},{"freq":27.7,"mag":3.72e-23,"series":"O1"},{"freq":28.3,"mag":1.58e-22,"series":"O1"},{"freq":28.8,"mag":2.75e-23,"series":"O1"},{"freq":30.2,"mag":3.39e-23,"series":"O1"},{"freq":31.1,"mag":2.88e-23,"series":"O1"},{"freq":32.0,"mag":2.19e-23,"series":"O1"},{"freq":33.2,"mag":2.45e-23,"series":"O1"},{"freq":34.1,"mag":2.0e-23,"series":"O1"},{"freq":35.2,"mag":2.75e-23,"series":"O1"},{"freq":36.0,"mag":1.78e-22,"series":"O1"},{"freq":36.4,"mag":3.55e-23,"series":"O1"},{"freq":36.7,"mag":2.4e-22,"series":"O1"},{"freq":37.7,"mag":1.78e-23,"series":"O1"},{"freq":39.1,"mag":1.7e-23,"series":"O1"},{"freq":40.9,"mag":4.17e-23,"series":"O1"},{"freq":41.8,"mag":2.0e-23,"series":"O1"},{"freq":43.8,"mag":1.51e-23,"series":"O1"},{"freq":46.2,"mag":2.75e-23,"series":"O1"},{"freq":48.0,"mag":1.45e-23,"series":"O1"},{"freq":50.0,"mag":1.1e-23,"series":"O1"},{"freq":53.2,"mag":1.45e-23,"series":"O1"},{"freq":56.6,"mag":1.1e-23,"series":"O1"},{"freq":60.0,"mag":1.29e-23,"series":"O1"},{"freq":63.6,"mag":1.91e-23,"series":"O1"},{"freq":67.4,"mag":1.0e-23,"series":"O1"},{"freq":74.1,"mag":8.91e-24,"series":"O1"},{"freq":81.1,"mag":8.51e-24,"series":"O1"},{"freq":88.9,"mag":8.71e-24,"series":"O1"},{"freq":97.4,"mag":7.94e-24,"series":"O1"},{"freq":107,"mag":8.51e-24,"series":"O1"},{"freq":119,"mag":8.51e-24,"series":"O1"},{"freq":127.2,"mag":8.51e-24,"series":"O1"},{"freq":128,"mag":1.66e-23,"series":"O1"},{"freq":128.8,"mag":8.51e-24,"series":"O1"},{"freq":147,"mag":7.94e-24,"series":"O1"},{"freq":162,"mag":7.59e-24,"series":"O1"},{"freq":180.3,"mag":8.91e-24,"series":"O1"},{"freq":181.4,"mag":8.32e-23,"series":"O1"},{"freq":182.5,"mag":1.0e-23,"series":"O1"},{"freq":190,"mag":9.33e-24,"series":"O1"},{"freq":202,"mag":7.94e-24,"series":"O1"},{"freq":218,"mag":8.51e-24,"series":"O1"},{"freq":239,"mag":7.59e-24,"series":"O1"},{"freq":258,"mag":8.51e-24,"series":"O1"},{"freq":283,"mag":1.1e-23,"series":"O1"},{"freq":300,"mag":8.51e-24,"series":"O1"},{"freq":303,"mag":3.72e-23,"series":"O1"},{"freq":306,"mag":8.91e-24,"series":"O1"},{"freq":332,"mag":1.0e-23,"series":"O1"},{"freq":352,"mag":1.17e-23,"series":"O1"},{"freq":368,"mag":1.51e-23,"series":"O1"},{"freq":384,"mag":9.33e-24,"series":"O1"},{"freq":415,"mag":1.0e-23,"series":"O1"},{"freq":447,"mag":1.1e-23,"series":"O1"},{"freq":490,"mag":1.05e-23,"series":"O1"},{"freq":505,"mag":1.26e-23,"series":"O1"},{"freq":508,"mag":8.32e-23,"series":"O1"},{"freq":512,"mag":1.26e-23,"series":"O1"},{"freq":536,"mag":1.17e-23,"series":"O1"},{"freq":560,"mag":1.45e-23,"series":"O1"},{"freq":600,"mag":1.29e-23,"series":"O1"},{"freq":628,"mag":1.45e-23,"series":"O1"},{"freq":679,"mag":1.29e-23,"series":"O1"},{"freq":730,"mag":1.45e-23,"series":"O1"},{"freq":787,"mag":1.62e-23,"series":"O1"},{"freq":860,"mag":1.7e-23,"series":"O1"},{"freq":938,"mag":1.78e-23,"series":"O1"},{"freq":995,"mag":2.0e-23,"series":"O1"},{"freq":1000,"mag":2.82e-22,"series":"O1"},{"freq":1005,"mag":2.0e-23,"series":"O1"},{"freq":1054,"mag":2.09e-23,"series":"O1"},{"freq":1077,"mag":2.19e-23,"series":"O1"},{"freq":1081,"mag":9.77e-23,"series":"O1"},{"freq":1085,"mag":2.19e-23,"series":"O1"},{"freq":1110,"mag":2.19e-23,"series":"O1"},{"freq":1230,"mag":2.45e-23,"series":"O1"},{"freq":1350,"mag":2.57e-23,"series":"O1"},{"freq":1432,"mag":2.88e-23,"series":"O1"},{"freq":1465,"mag":7.94e-23,"series":"O1"},{"freq":1500,"mag":3.02e-23,"series":"O1"},{"freq":1600,"mag":3.24e-23,"series":"O1"},{"freq":1730,"mag":3.39e-23,"series":"O1"},{"freq":1861,"mag":3.55e-23,"series":"O1"},{"freq":2016,"mag":3.98e-23,"series":"O1"},{"freq":2139,"mag":3.98e-23,"series":"O1"},{"freq":2145,"mag":4.27e-22,"series":"O1"},{"freq":2152,"mag":3.98e-23,"series":"O1"},{"freq":2188,"mag":3.98e-23,"series":"O1"},{"freq":2194,"mag":3.63e-22,"series":"O1"},{"freq":2201,"mag":4.17e-23,"series":"O1"},{"freq":2294,"mag":4.17e-23,"series":"O1"},{"freq":2509,"mag":4.37e-23,"series":"O1"},{"freq":2745,"mag":5.13e-23,"series":"O1"},{"freq":3003,"mag":5.75e-23,"series":"O1"},{"freq":3188,"mag":7.08e-23,"series":"O1"},{"freq":3260,"mag":1.26e-22,"series":"O1"},{"freq":3324,"mag":6.03e-22,"series":"O1"},{"freq":3384,"mag":1.26e-22,"series":"O1"},{"freq":3487,"mag":7.94e-23,"series":"O1"},{"freq":3701,"mag":8.71e-23,"series":"O1"},{"freq":3930,"mag":7.94e-23,"series":"O1"},{"freq":4172,"mag":9.33e-23,"series":"O1"},{"freq":4496,"mag":9.33e-23,"series":"O1"},{"freq":4980,"mag":9.33e-23,"series":"O1"},{"freq":4993,"mag":1.35e-22,"series":"O1"},{"freq":5006,"mag":1.0e-22,"series":"O1"},{"freq":5299,"mag":1.07e-22,"series":"O1"},{"freq":5610,"mag":1.07e-22,"series":"O1"},{"freq":5628,"mag":1.82e-22,"series":"O1"},{"freq":5645,"mag":1.07e-22,"series":"O1"},{"freq":5915,"mag":1.07e-22,"series":"O1"},{"freq":5928,"mag":6.61e-22,"series":"O1"},{"freq":5941,"mag":1.07e-22,"series":"O1"},{"freq":6061,"mag":1.07e-22,"series":"O1"},{"freq":6531,"mag":1.0e-22,"series":"O1"},{"freq":6830,"mag":9.33e-23,"series":"O1"},{"freq":7180,"mag":7.94e-23,"series":"O1"}
    ],
    "o1_band": [
      {"freq":37.7,"lo":1.68e-23,"hi":1.88e-23},{"freq":39.1,"lo":1.61e-23,"hi":1.8e-23},{"freq":41.8,"lo":1.89e-23,"hi":2.12e-23},{"freq":43.8,"lo":1.43e-23,"hi":1.6e-23},{"freq":46.2,"lo":2.6e-23,"hi":2.91e-23},{"freq":48.0,"lo":1.37e-23,"hi":1.54e-23},{"freq":50.0,"lo":1.04e-23,"hi":1.16e-23},{"freq":53.2,"lo":1.37e-23,"hi":1.54e-23},{"freq":56.6,"lo":1.04e-23,"hi":1.16e-23},{"freq":60.0,"lo":1.22e-23,"hi":1.37e-23},{"freq":63.6,"lo":1.8e-23,"hi":2.02e-23},{"freq":67.4,"lo":9.44e-24,"hi":1.06e-23},{"freq":74.1,"lo":8.41e-24,"hi":9.44e-24},{"freq":81.1,"lo":8.04e-24,"hi":9.01e-24},{"freq":88.9,"lo":8.22e-24,"hi":9.22e-24},{"freq":97.4,"lo":7.5e-24,"hi":8.41e-24},{"freq":107,"lo":8.04e-24,"hi":9.01e-24},{"freq":119,"lo":8.04e-24,"hi":9.01e-24},{"freq":147,"lo":7.5e-24,"hi":8.41e-24},{"freq":162,"lo":7.17e-24,"hi":8.04e-24},{"freq":190,"lo":8.81e-24,"hi":9.88e-24},{"freq":202,"lo":7.5e-24,"hi":8.41e-24},{"freq":218,"lo":8.04e-24,"hi":9.01e-24},{"freq":239,"lo":7.17e-24,"hi":8.04e-24},{"freq":258,"lo":8.04e-24,"hi":9.01e-24},{"freq":283,"lo":1.04e-23,"hi":1.16e-23},{"freq":300,"lo":8.04e-24,"hi":9.01e-24},{"freq":332,"lo":9.44e-24,"hi":1.06e-23},{"freq":352,"lo":1.1e-23,"hi":1.24e-23},{"freq":368,"lo":1.43e-23,"hi":1.6e-23},{"freq":384,"lo":8.81e-24,"hi":9.88e-24},{"freq":415,"lo":9.44e-24,"hi":1.06e-23},{"freq":447,"lo":1.04e-23,"hi":1.16e-23},{"freq":490,"lo":9.92e-24,"hi":1.11e-23},{"freq":536,"lo":1.1e-23,"hi":1.24e-23},{"freq":560,"lo":1.37e-23,"hi":1.54e-23},{"freq":600,"lo":1.22e-23,"hi":1.37e-23},{"freq":628,"lo":1.37e-23,"hi":1.54e-23},{"freq":679,"lo":1.22e-23,"hi":1.37e-23},{"freq":730,"lo":1.37e-23,"hi":1.54e-23},{"freq":787,"lo":1.53e-23,"hi":1.72e-23},{"freq":860,"lo":1.61e-23,"hi":1.8e-23},{"freq":938,"lo":1.68e-23,"hi":1.88e-23},{"freq":1054,"lo":1.97e-23,"hi":2.21e-23},{"freq":1110,"lo":2.07e-23,"hi":2.32e-23},{"freq":1230,"lo":2.31e-23,"hi":2.59e-23},{"freq":1350,"lo":2.43e-23,"hi":2.72e-23},{"freq":1432,"lo":2.72e-23,"hi":3.05e-23},{"freq":1500,"lo":2.85e-23,"hi":3.2e-23},{"freq":1600,"lo":3.06e-23,"hi":3.43e-23},{"freq":1730,"lo":3.2e-23,"hi":3.59e-23},{"freq":1861,"lo":3.35e-23,"hi":3.76e-23},{"freq":2016,"lo":3.76e-23,"hi":4.21e-23},{"freq":2294,"lo":3.94e-23,"hi":4.42e-23},{"freq":2509,"lo":4.13e-23,"hi":4.63e-23},{"freq":2745,"lo":4.84e-23,"hi":5.43e-23},{"freq":3003,"lo":5.43e-23,"hi":6.09e-23},{"freq":3188,"lo":6.69e-23,"hi":7.5e-23},{"freq":3487,"lo":7.5e-23,"hi":8.41e-23},{"freq":3701,"lo":8.22e-23,"hi":9.22e-23},{"freq":3930,"lo":7.5e-23,"hi":8.41e-23},{"freq":4172,"lo":8.81e-23,"hi":9.88e-23},{"freq":4496,"lo":8.81e-23,"hi":9.88e-23},{"freq":4980,"lo":8.81e-23,"hi":9.88e-23},{"freq":5299,"lo":1.01e-22,"hi":1.13e-22},{"freq":6061,"lo":1.01e-22,"hi":1.13e-22},{"freq":6531,"lo":9.44e-23,"hi":1.06e-22},{"freq":6830,"lo":8.81e-23,"hi":9.88e-23},{"freq":7180,"lo":7.5e-23,"hi":8.41e-23}
    ]
  },
  "layer": [
    {
      "encoding": {
        "x": {
          "field": "freq", "type": "quantitative",
          "scale": {"type": "log", "domain": [7, 7180], "nice": false},
          "axis": {
            "orient": "bottom",
            "values": [7,8,9,10,20,30,40,50,60,70,80,90,100,200,300,400,500,600,700,800,900,1000,2000,3000,4000,5000,6000,7000],
            "labelExpr": "datum.value == 10 || datum.value == 100 || datum.value == 1000 ? '10' : ''",
            "labelFont": "Liberation Sans", "labelFontWeight": "bold", "labelFontSize": 46, "labelColor": "black",
            "labelPadding": 17, "labelOverlap": false, "labelFlush": false,
            "labelOffset": {"condition": {"test": "datum.value > 50", "value": -16}, "value": 0},
            "ticks": false, "domain": true, "domainColor": "black", "domainWidth": 2,
            "grid": true, "gridColor": "black", "gridDash": [3, 4], "gridWidth": 1.7, "gridOpacity": 1,
            "title": "Frequency (Hz)", "titleFont": "Liberation Sans", "titleFontWeight": "bold", "titleFontSize": 49, "titleColor": "black",
            "titleX": 776, "titleY": 114, "titleBaseline": "middle", "titleAlign": "center"
          }
        },
        "y": {
          "field": "mag", "type": "quantitative",
          "scale": {"type": "log", "domain": [5e-24, 7e-18], "nice": false},
          "axis": {
            "orient": "left",
            "values": [1e-23, 1e-22, 1e-21, 1e-20, 1e-19, 1e-18],
            "labelExpr": "'10'",
            "labelFont": "Liberation Sans", "labelFontWeight": "bold", "labelFontSize": 46, "labelColor": "black",
            "labelPadding": 59, "labelOffset": 3, "labelBaseline": "middle", "labelAlign": "right", "labelOverlap": false, "labelFlush": false,
            "ticks": false, "domain": true, "domainColor": "black", "domainWidth": 2,
            "grid": true, "gridColor": "black", "gridDash": [3, 4], "gridWidth": 1.7, "gridOpacity": 1,
            "title": "Magnitude (Strain/Hz¹ᐟ²)", "titleFont": "Liberation Sans", "titleFontWeight": "bold", "titleFontSize": 51, "titleColor": "black",
            "titleX": -122, "titleY": 446, "titleAngle": 270, "titleBaseline": "middle", "titleAlign": "center"
          }
        },
        "color": {
          "field": "series", "type": "nominal",
          "scale": {"domain": ["before", "after", "O1"], "range": ["#d60000", "#46629a", "#ffaa1d"]},
          "legend": {
            "orient": "none", "legendX": 852.4, "legendY": 25.8, "title": null,
            "labelExpr": "datum.label == 'before' ? 'before spot position move (41W)' : datum.label == 'after' ? 'after spot position move (41W)' : 'O1 sensitivity (20W)'",
            "symbolType": "M-6,0H6M57.25,0", "symbolSize": 384, "symbolOffset": 56.55, "labelOffset": 69.35,
            "labelFont": "Liberation Sans", "labelFontWeight": "bold", "labelFontSize": 29.5, "labelColor": "black", "labelLimit": 1000,
            "padding": 11.25, "rowPadding": 21.4, "fillColor": "white", "strokeColor": "black", "zindex": 2,
            "encode": {"legend": {"update": {"strokeWidth": {"value": 2}}}, "labels": {"update": {"dy": {"value": 3.5}}}}
          }
        },
        "strokeWidth": {
          "field": "series", "type": "nominal",
          "scale": {"type": "ordinal", "domain": ["before", "after", "O1"], "range": [2.5, 5, 2]}
        },
        "strokeDash": {
          "field": "series", "type": "nominal",
          "scale": {"domain": ["O1", "after", "before"], "range": [[1, 0], [1, 0], [1, 0]]},
          "legend": {
            "orient": "none", "legendX": 860.4, "legendY": 32.8, "title": null,
            "labelExpr": "''",
            "symbolType": "M-6,0H6M57.25,0", "symbolSize": 384, "symbolOffset": 56.55, "labelOffset": 69.35,
            "labelFont": "Liberation Sans", "labelFontWeight": "bold", "labelFontSize": 29.5, "labelColor": "black", "labelLimit": 1000,
            "symbolStrokeColor": "black", "symbolStrokeWidth": 5,
            "padding": 11.25, "rowPadding": 21.4, "fillColor": "black", "strokeColor": "black", "zindex": 1,
            "encode": {"legend": {"update": {"strokeWidth": {"value": 2}}}, "labels": {"update": {"dy": {"value": 3.5}}}}
          }
        }
      },
      "layer": [
        {"data": {"name": "after_band"}, "mark": {"type": "area", "clip": true, "opacity": 1},
         "encoding": {"y": {"field": "lo", "type": "quantitative"}, "y2": {"field": "hi"}, "color": {"value": "#46629a"}, "strokeWidth": {"value": 0}, "strokeDash": {"value": [1, 0]}}},
        {"data": {"name": "after"}, "mark": {"type": "line", "clip": true, "strokeJoin": "round"}},
        {"data": {"name": "before_band"}, "mark": {"type": "area", "clip": true, "opacity": 1},
         "encoding": {"y": {"field": "lo", "type": "quantitative"}, "y2": {"field": "hi"}, "color": {"value": "#d60000"}, "strokeWidth": {"value": 0}, "strokeDash": {"value": [1, 0]}}},
        {"data": {"name": "before"}, "mark": {"type": "line", "clip": true, "strokeJoin": "round"}},
        {"data": {"name": "o1_band"}, "mark": {"type": "area", "clip": true, "opacity": 1},
         "encoding": {"y": {"field": "lo", "type": "quantitative"}, "y2": {"field": "hi"}, "color": {"value": "#ffaa1d"}, "strokeWidth": {"value": 0}, "strokeDash": {"value": [1, 0]}}},
        {"data": {"name": "o1"}, "mark": {"type": "line", "clip": true, "strokeJoin": "round"}}
      ]
    },
    {
      "data": {"values": []},
      "mark": {"type": "point"},
      "encoding": {
        "x": {
          "field": "freq", "type": "quantitative",
          "scale": {"type": "log", "domain": [7, 7180], "nice": false},
          "axis": {
            "orient": "bottom", "values": [7,8,9,10,20,30,40,50,60,70,80,90,100,200,300,400,500,600,700,800,900,1000,2000,3000,4000,5000,6000,7000],
            "labels": false, "grid": false, "domain": false, "ticks": true, "tickColor": "black", "tickWidth": 1.8,
            "tickSize": {"condition": {"test": "abs(log(datum.value)/LN10 - round(log(datum.value)/LN10)) < 0.001", "value": -30}, "value": -16},
            "title": null, "zindex": 1
          }
        },
        "y": {
          "field": "mag", "type": "quantitative",
          "scale": {"type": "log", "domain": [5e-24, 7e-18], "nice": false},
          "axis": {
            "orient": "left",
            "values": [5e-24,6e-24,7e-24,8e-24,9e-24,1e-23,2e-23,3e-23,4e-23,5e-23,6e-23,7e-23,8e-23,9e-23,1e-22,2e-22,3e-22,4e-22,5e-22,6e-22,7e-22,8e-22,9e-22,1e-21,2e-21,3e-21,4e-21,5e-21,6e-21,7e-21,8e-21,9e-21,1e-20,2e-20,3e-20,4e-20,5e-20,6e-20,7e-20,8e-20,9e-20,1e-19,2e-19,3e-19,4e-19,5e-19,6e-19,7e-19,8e-19,9e-19,1e-18,2e-18,3e-18,4e-18,5e-18,6e-18,7e-18],
            "labels": false, "grid": false, "domain": false, "ticks": true, "tickColor": "black", "tickWidth": 1.8,
            "tickSize": {"condition": {"test": "abs(log(datum.value)/LN10 - round(log(datum.value)/LN10)) < 0.001", "value": -30}, "value": -21},
            "title": null, "zindex": 1
          }
        }
      }
    },
    {
      "data": {"values": []},
      "mark": {"type": "point"},
      "encoding": {
        "x": {
          "field": "freq", "type": "quantitative",
          "scale": {"type": "log", "domain": [7, 7180], "nice": false},
          "axis": {
            "orient": "top", "values": [7,8,9,10,20,30,40,50,60,70,80,90,100,200,300,400,500,600,700,800,900,1000,2000,3000,4000,5000,6000,7000],
            "labels": false, "grid": false, "domain": true, "domainColor": "black", "domainWidth": 2, "ticks": true, "tickColor": "black", "tickWidth": 1.8,
            "tickSize": {"condition": {"test": "abs(log(datum.value)/LN10 - round(log(datum.value)/LN10)) < 0.001", "value": -30}, "value": -21},
            "title": null, "zindex": 1
          }
        },
        "y": {
          "field": "mag", "type": "quantitative",
          "scale": {"type": "log", "domain": [5e-24, 7e-18], "nice": false},
          "axis": {
            "orient": "right",
            "values": [5e-24,6e-24,7e-24,8e-24,9e-24,1e-23,2e-23,3e-23,4e-23,5e-23,6e-23,7e-23,8e-23,9e-23,1e-22,2e-22,3e-22,4e-22,5e-22,6e-22,7e-22,8e-22,9e-22,1e-21,2e-21,3e-21,4e-21,5e-21,6e-21,7e-21,8e-21,9e-21,1e-20,2e-20,3e-20,4e-20,5e-20,6e-20,7e-20,8e-20,9e-20,1e-19,2e-19,3e-19,4e-19,5e-19,6e-19,7e-19,8e-19,9e-19,1e-18,2e-18,3e-18,4e-18,5e-18,6e-18,7e-18],
            "labels": false, "grid": false, "domain": false, "ticks": true, "tickColor": "black", "tickWidth": 1.8,
            "tickSize": {"condition": {"test": "abs(log(datum.value)/LN10 - round(log(datum.value)/LN10)) < 0.001", "value": -31}, "value": -11},
            "title": null, "zindex": 1
          }
        }
      }
    },
    {
      "data": {"values": []},
      "mark": {"type": "point"},
      "encoding": {
        "x": {
          "field": "freq", "type": "quantitative",
          "scale": {"type": "log", "domain": [7, 7180], "nice": false},
          "axis": {
            "orient": "bottom", "values": [100, 1000],
            "labelExpr": "datum.value == 100 ? '2' : '3'",
            "labelFont": "Liberation Sans", "labelFontWeight": "bold", "labelFontSize": 25, "labelColor": "black",
            "labelPadding": 16, "labelOffset": 11, "labelAlign": "left", "labelBaseline": "top", "labelOverlap": false, "labelFlush": false,
            "ticks": false, "grid": false, "domain": false, "title": null, "zindex": 1
          }
        },
        "y": {
          "field": "mag", "type": "quantitative",
          "scale": {"type": "log", "domain": [5e-24, 7e-18], "nice": false},
          "axis": {
            "orient": "left",
            "values": [1e-23, 1e-22, 1e-21, 1e-20, 1e-19, 1e-18],
            "labelExpr": "datum.value < 3e-23 ? '-23' : datum.value < 3e-22 ? '-22' : datum.value < 3e-21 ? '-21' : datum.value < 3e-20 ? '-20' : datum.value < 3e-19 ? '-19' : '-18'",
            "labelFont": "Liberation Sans", "labelFontWeight": "bold", "labelFontSize": 28, "labelColor": "black",
            "labelPadding": 18, "labelOffset": -2, "labelBaseline": "alphabetic", "labelAlign": "right", "labelOverlap": false, "labelFlush": false,
            "ticks": false, "grid": false, "domain": false, "title": null, "zindex": 1
          }
        }
      }
    }
  ],
  "resolve": {"axis": {"x": "independent", "y": "independent"}}
}
